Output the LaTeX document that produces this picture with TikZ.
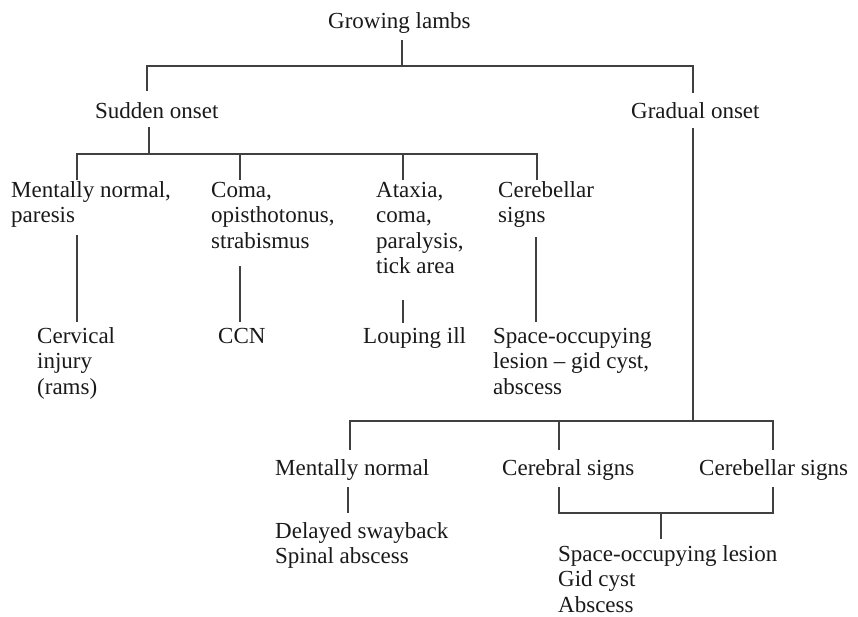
\documentclass[tikz,border=0pt]{standalone}
\usepackage{fontspec}
\setmainfont{Liberation Serif}
\begin{document}
\begin{tikzpicture}[x=1pt,y=-1pt,
  lbl/.style={anchor=base west,inner sep=0pt,font=\fontsize{23}{25.5}\selectfont,text=black!90},
  conn/.style={draw=black!75,line width=1.3pt}]
\useasboundingbox (0,0) rectangle (858,616);
\newcommand{\ml}[1]{\begin{tabular}[t]{@{}l@{}}#1\end{tabular}}
% nodes
\node[lbl] (root) at (328,28) {Growing lambs};
\node[lbl] (sudden) at (95,118) {Sudden onset};
\node[lbl] (gradual) at (631,118) {Gradual onset};
\node[lbl] (mn) at (11,197) {\ml{Mentally normal,\\paresis}};
\node[lbl] (coma) at (211,197) {\ml{Coma,\\opisthotonus,\\strabismus}};
\node[lbl] (atax) at (376,197) {\ml{Ataxia,\\coma,\\paralysis,\\tick area}};
\node[lbl] (cereb) at (498,197) {\ml{Cerebellar\\signs}};
\node[lbl] (cerv) at (37,343) {\ml{Cervical\\injury\\(rams)}};
\node[lbl] (ccn) at (218,343) {CCN};
\node[lbl] (loup) at (363,343) {Louping ill};
\node[lbl] (soc) at (493,343) {\ml{Space-occupying\\lesion -- gid cyst,\\abscess}};
\node[lbl] (mn2) at (275,475) {Mentally normal};
\node[lbl] (cer2) at (502,475) {Cerebral signs};
\node[lbl] (cbl2) at (699,475) {Cerebellar signs};
\node[lbl] (del) at (275,538) {\ml{Delayed swayback\\Spinal abscess}};
\node[lbl] (sol) at (558,561) {\ml{Space-occupying lesion\\Gid cyst\\Abscess}};
% connector end points
\coordinate (r0) at (402,40);
\coordinate (r1) at (402,66);
\coordinate (s0) at (147,91);
\coordinate (g0) at (693,93);
\coordinate (s1) at (149,127);
\coordinate (s2) at (149,154);
\coordinate (a1) at (77,180);
\coordinate (a2) at (240,180);
\coordinate (a3) at (403,180);
\coordinate (a4) at (537,180);
\coordinate (b1t) at (77,235);   \coordinate (b1b) at (77,322);
\coordinate (b2t) at (240,266);  \coordinate (b2b) at (240,322);
\coordinate (b3t) at (403,300);  \coordinate (b3b) at (403,323);
\coordinate (b4t) at (536,237);  \coordinate (b4b) at (536,322);
\coordinate (g1) at (693,128);
\coordinate (g2) at (693,421);
\coordinate (c1) at (350,450);
\coordinate (c2) at (559,450);
\coordinate (c3) at (773,450);
\coordinate (d1t) at (348,487);  \coordinate (d1b) at (348,513);
\coordinate (e1) at (559,487);
\coordinate (e2) at (773,487);
\coordinate (e3) at (661,513);
\coordinate (e4) at (661,539);
% connectors
\draw[conn] (r0) -- (r1);
\draw[conn] (s0) |- (r1) -| (g0);
\draw[conn] (s1) -- (s2);
\draw[conn] (a1) |- (s2) -| (a4);
\draw[conn] (a2) -- (a2 |- s2);
\draw[conn] (a3) -- (a3 |- s2);
\draw[conn] (b1t) -- (b1b);
\draw[conn] (b2t) -- (b2b);
\draw[conn] (b3t) -- (b3b);
\draw[conn] (b4t) -- (b4b);
\draw[conn] (g1) -- (g2);
\draw[conn] (c1) |- (g2) -| (c3);
\draw[conn] (c2) -- (c2 |- g2);
\draw[conn] (d1t) -- (d1b);
\draw[conn] (e1) |- (e3) -| (e2);
\draw[conn] (e3) -- (e4);
\end{tikzpicture}
\end{document}
